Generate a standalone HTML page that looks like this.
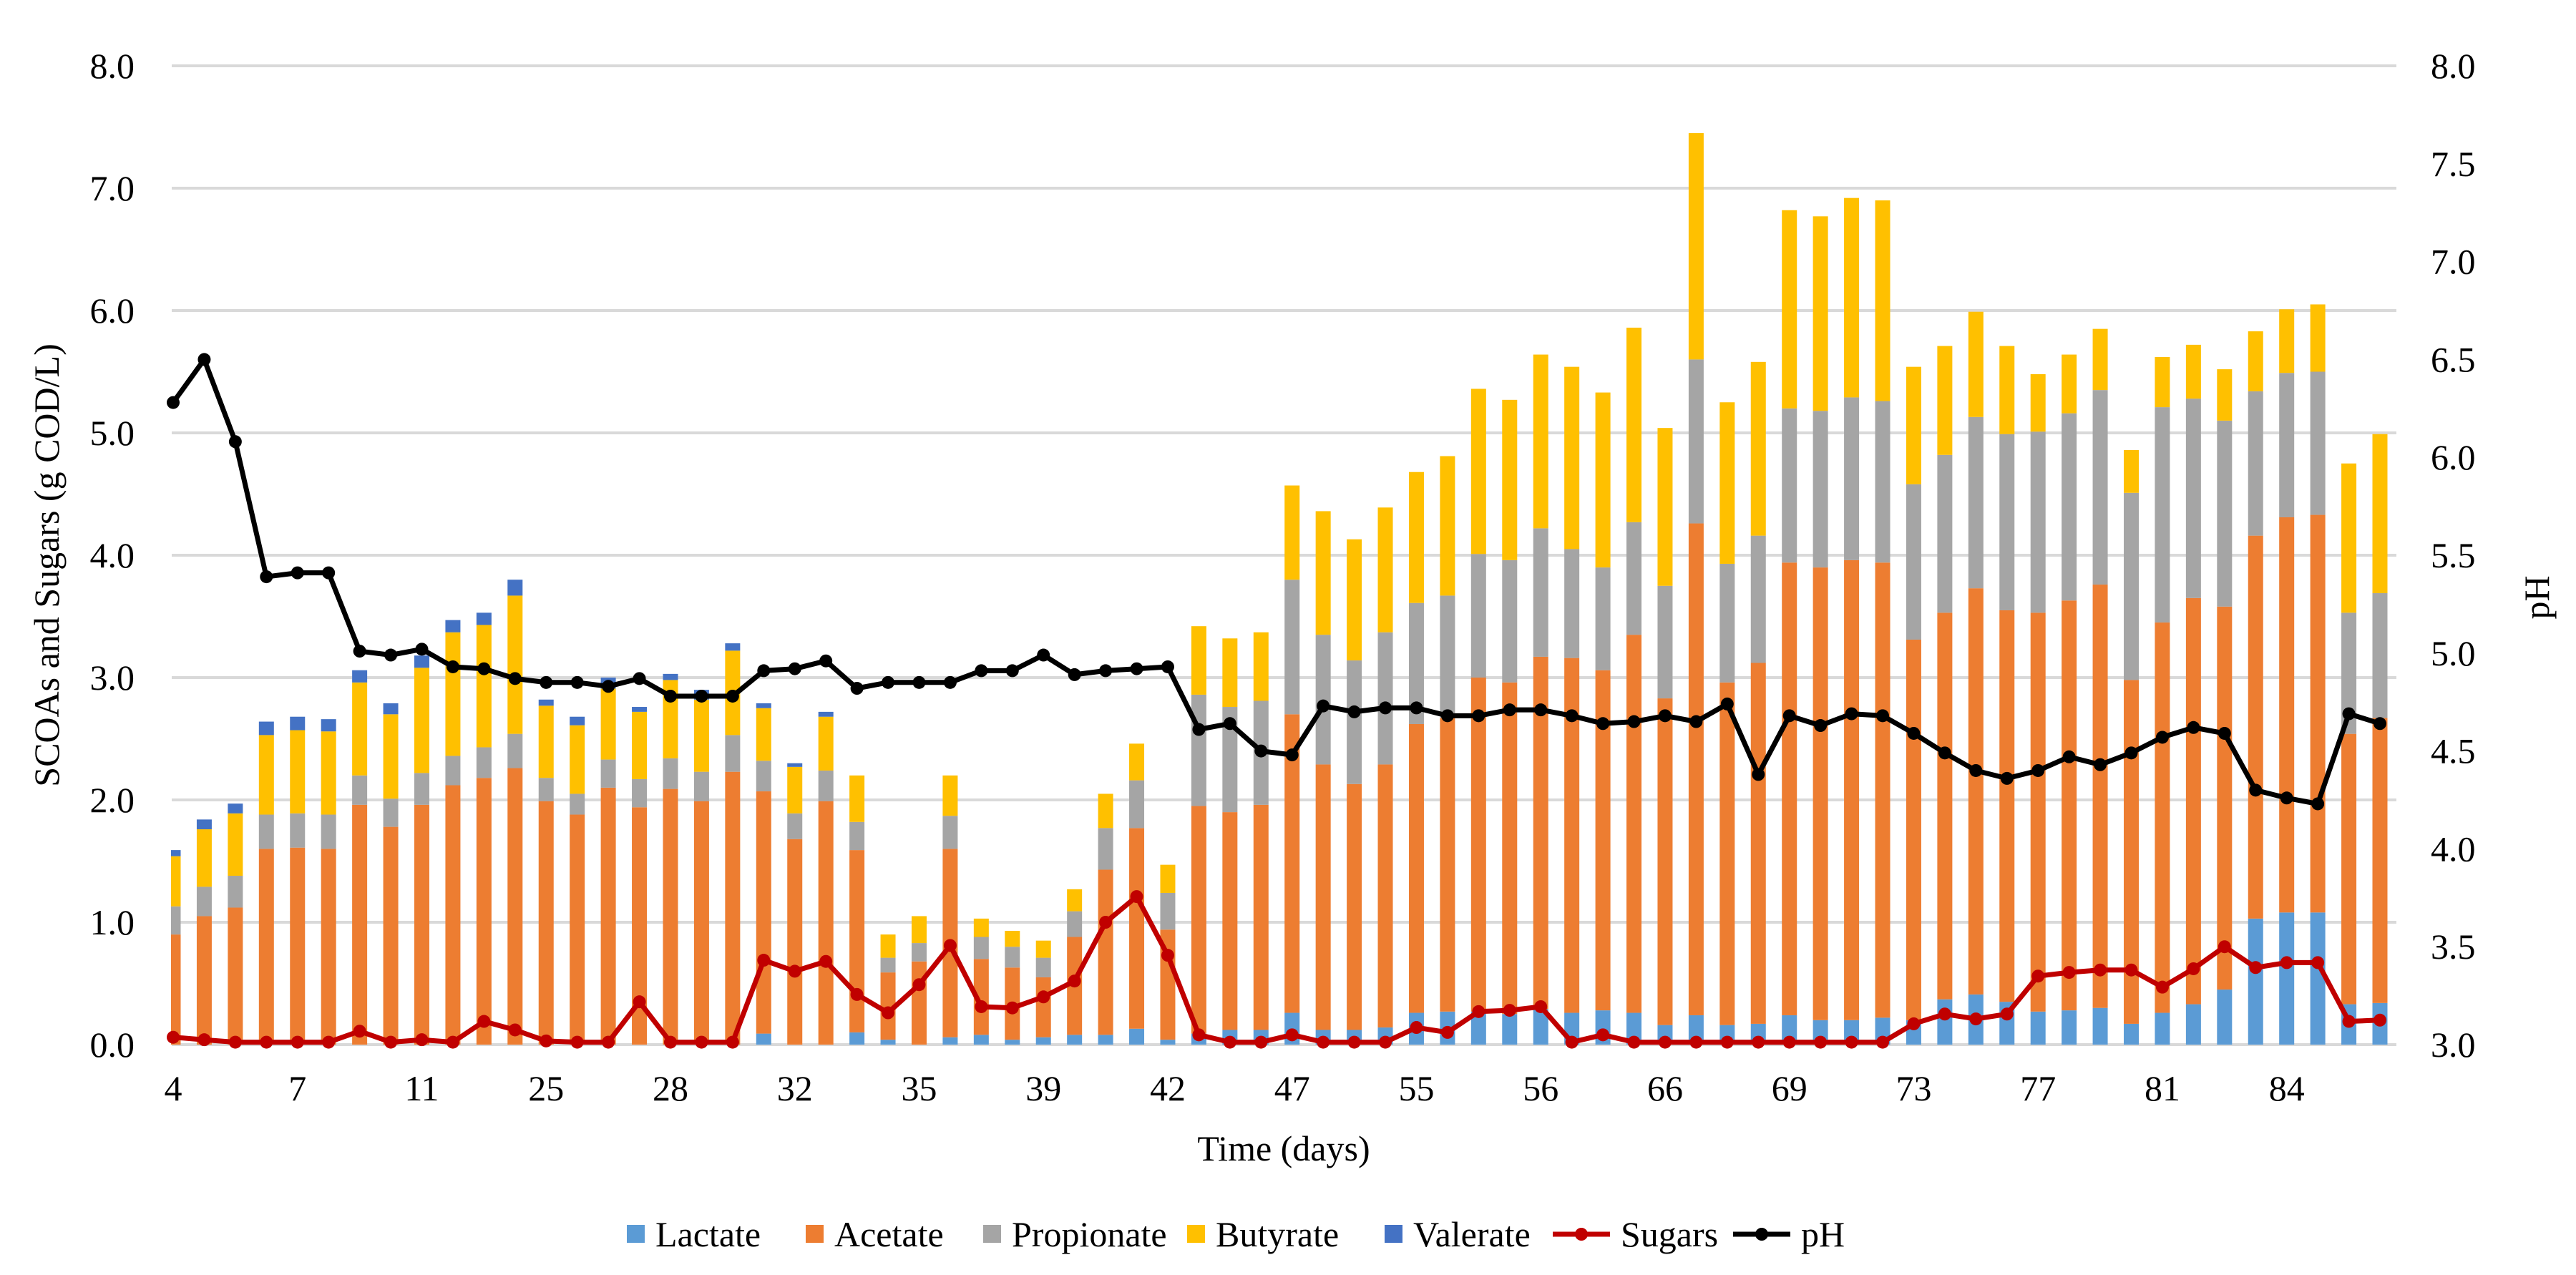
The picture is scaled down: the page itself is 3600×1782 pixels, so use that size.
<!DOCTYPE html>
<html>
<head>
<meta charset="utf-8">
<style>
html,body{margin:0;padding:0;background:#fff;}
svg{display:block;}
text{font-family:"Liberation Serif",serif;fill:#000;}
</style>
</head>
<body>
<svg id="chart" xmlns="http://www.w3.org/2000/svg" width="3600" height="1782" viewBox="0 0 3600 1782">
  <defs>
    <clipPath id="plotclip"><rect x="239" y="0" width="3120" height="1470"/></clipPath>
  </defs>
  <rect x="0" y="0" width="3600" height="1782" fill="#fff"/>
  <g id="grid"></g>
  <g id="bars" clip-path="url(#plotclip)"></g>
  <g id="lines"></g>
  <g id="axes"></g>
  <text x="0" y="0" font-size="50" text-anchor="middle" transform="translate(82,790) rotate(-90)">SCOAs and Sugars (g COD/L)</text>
  <text x="0" y="0" font-size="50" text-anchor="middle" transform="translate(3562,835) rotate(-90)">pH</text>
  <text x="1794" y="1622" font-size="50" text-anchor="middle">Time (days)</text>
  <g id="legend"></g>
</svg>
<script>
const tickLabels = ["4","7","11","25","28","32","35","39","42","47","55","56","66","69","73","77","81","84"];
const lactate = [0,0,0,0,0,0,0,0,0,0,0,0,0,0,0,0,0,0,0,.09,0,0,.10,.04,0,.06,.08,.04,.06,.08,.08,.13,.04,.09,.12,.12,.26,.12,.12,.14,.26,.27,.27,.25,.29,.26,.28,.26,.16,.24,.16,.17,.24,.20,.20,.22,.20,.37,.41,.35,.27,.28,.30,.17,.26,.33,.45,1.03,1.08,1.08,.33,.34];
const acetate = [.90,1.05,1.12,1.60,1.61,1.60,1.96,1.78,1.96,2.12,2.18,2.26,1.99,1.88,2.10,1.94,2.09,1.99,2.23,1.98,1.68,1.99,1.49,.55,.68,1.54,.62,.59,.49,.80,1.35,1.64,.90,1.86,1.78,1.84,2.44,2.17,2.01,2.15,2.36,2.40,2.73,2.71,2.88,2.90,2.78,3.09,2.67,4.02,2.80,2.95,3.70,3.70,3.76,3.72,3.11,3.16,3.32,3.20,3.26,3.35,3.46,2.81,3.19,3.32,3.13,3.13,3.23,3.25,2.21,2.33];
const propionate = [.23,.24,.26,.28,.28,.28,.24,.23,.26,.24,.25,.28,.19,.17,.23,.23,.25,.24,.30,.25,.21,.25,.23,.12,.15,.27,.18,.17,.16,.21,.34,.39,.30,.91,.86,.85,1.10,1.06,1.01,1.08,.99,1.00,1.01,1.00,1.05,.89,.84,.92,.92,1.34,.97,1.04,1.26,1.28,1.33,1.32,1.27,1.29,1.40,1.44,1.48,1.53,1.59,1.53,1.76,1.63,1.52,1.18,1.18,1.17,.99,1.02];
const butyrate = [.41,.47,.51,.65,.68,.68,.76,.69,.86,1.01,1.00,1.13,.59,.56,.58,.55,.64,.59,.69,.43,.38,.44,.38,.19,.22,.33,.15,.13,.14,.18,.28,.30,.23,.56,.56,.56,.77,1.01,.99,1.02,1.07,1.14,1.35,1.31,1.42,1.49,1.43,1.59,1.29,1.85,1.32,1.42,1.62,1.59,1.63,1.64,.96,.89,.86,.72,.47,.48,.50,.35,.41,.44,.42,.49,.52,.55,1.22,1.30];
const valerate = [.05,.08,.08,.11,.11,.10,.10,.09,.10,.10,.10,.13,.05,.07,.09,.04,.05,.08,.06,.04,.03,.04,0,0,0,0,0,0,0,0,0,0,0,0,0,0,0,0,0,0,0,0,0,0,0,0,0,0,0,0,0,0,0,0,0,0,0,0,0,0,0,0,0,0,0,0,0,0,0,0,0,0];
const sugars = [.06,.04,.02,.02,.02,.02,.11,.02,.04,.02,.19,.12,.03,.02,.02,.35,.02,.02,.02,.69,.60,.68,.41,.26,.49,.81,.31,.30,.39,.52,1.0,1.21,.73,.08,.02,.02,.08,.02,.02,.02,.14,.10,.27,.28,.31,.02,.08,.02,.02,.02,.02,.02,.02,.02,.02,.02,.17,.25,.21,.25,.56,.59,.61,.61,.47,.62,.80,.63,.67,.67,.19,.20];
const ph = [6.28,6.5,6.08,5.39,5.41,5.41,5.01,4.99,5.02,4.93,4.92,4.87,4.85,4.85,4.83,4.87,4.78,4.78,4.78,4.91,4.92,4.96,4.82,4.85,4.85,4.85,4.91,4.91,4.99,4.89,4.91,4.92,4.93,4.61,4.64,4.50,4.48,4.73,4.70,4.72,4.72,4.68,4.68,4.71,4.71,4.68,4.64,4.65,4.68,4.65,4.74,4.38,4.68,4.63,4.69,4.68,4.59,4.49,4.40,4.36,4.40,4.47,4.43,4.49,4.57,4.62,4.59,4.30,4.26,4.23,4.69,4.64];
const leftTicks = ["0.0","1.0","2.0","3.0","4.0","5.0","6.0","7.0","8.0"];
const rightTicks = ["3.0","3.5","4.0","4.5","5.0","5.5","6.0","6.5","7.0","7.5","8.0"];

const NS = "http://www.w3.org/2000/svg";
const PL = 240, PR = 3349, Y0 = 1460, YT = 92;
const N = lactate.length;
const X0 = 242, X1 = 3326;
const step = (X1 - X0) / (N - 1);
const xc = i => X0 + step * i;
const yL = v => Y0 - (v / 8) * (Y0 - YT);
const yR = v => Y0 - ((v - 3) / 5) * (Y0 - YT);
function mk(tag, attrs, parent) {
  const e = document.createElementNS(NS, tag);
  for (const k in attrs) e.setAttribute(k, attrs[k]);
  parent.appendChild(e);
  return e;
}
const grid = document.getElementById('grid');
const axes = document.getElementById('axes');
leftTicks.forEach((t, k) => {
  const y = yL(k);
  const g = mk('line', {x1: PL, x2: PR, y1: y, y2: y, stroke: '#d9d9d9', 'stroke-width': 4}, grid);
  
  
  const tx = mk('text', {x: 188, y: y + 17, 'font-size': 50, 'text-anchor': 'end'}, axes);
  tx.textContent = t;
  
  
});
rightTicks.forEach((t, k) => {
  const y = yR(parseFloat(t));
  const tx = mk('text', {x: 3397, y: y + 17, 'font-size': 50, 'text-anchor': 'start'}, axes);
  tx.textContent = t;
  
  
});
tickLabels.forEach((t, k) => {
  const tx = mk('text', {x: xc(k * 4), y: 1538, 'font-size': 50, 'text-anchor': 'middle'}, axes);
  tx.textContent = t;
  
  
});

const series = [
  {name: 'lactate', data: lactate, color: '#5b9bd5'},
  {name: 'acetate', data: acetate, color: '#ed7d31'},
  {name: 'propionate', data: propionate, color: '#a5a5a5'},
  {name: 'butyrate', data: butyrate, color: '#ffc000'},
  {name: 'valerate', data: valerate, color: '#4472c4'}
];
const bars = document.getElementById('bars');
const BW = 21;
for (let i = 0; i < N; i++) {
  let cum = 0;
  series.forEach(s => {
    const v = s.data[i];
    if (v > 0) {
      const yTop = yL(cum + v), yBot = yL(cum);
      const r = mk('rect', {x: xc(i) - BW / 2, y: yTop, width: BW, height: yBot - yTop, fill: s.color}, bars);
      
      
    }
    cum += v;
  });
}

const lines = document.getElementById('lines');
function drawLine(data, yf, color, name) {
  const pts = data.map((v, i) => xc(i).toFixed(1) + ',' + yf(v).toFixed(1)).join(' ');
  const pl = mk('polyline', {points: pts, fill: 'none', stroke: color, 'stroke-width': 7, 'stroke-linejoin': 'round'}, lines);
  
  
  data.forEach((v, i) => {
    const c = mk('circle', {cx: xc(i), cy: yf(v), r: 9, fill: color}, lines);
    
    
  });
}
drawLine(ph, yR, '#000000', 'ph');
drawLine(sugars, yL, '#c00000', 'sugars');

const legend = document.getElementById('legend');
const LY = 1725;
const legItems = [
  {label: 'Lactate', color: '#5b9bd5', x: 876, type: 'sq'},
  {label: 'Acetate', color: '#ed7d31', x: 1126, type: 'sq'},
  {label: 'Propionate', color: '#a5a5a5', x: 1374, type: 'sq'},
  {label: 'Butyrate', color: '#ffc000', x: 1659, type: 'sq'},
  {label: 'Valerate', color: '#4472c4', x: 1935, type: 'sq'},
  {label: 'Sugars', color: '#c00000', x: 2170, type: 'ln'},
  {label: 'pH', color: '#000000', x: 2422, type: 'ln'}
];
legItems.forEach(it => {
  const g = mk('g', {}, legend);
  
  
  let tx0;
  if (it.type === 'sq') {
    mk('rect', {x: it.x, y: LY - 13, width: 25, height: 25, fill: it.color}, g);
    tx0 = it.x + 40;
  } else {
    mk('line', {x1: it.x, x2: it.x + 80, y1: LY, y2: LY, stroke: it.color, 'stroke-width': 7}, g);
    mk('circle', {cx: it.x + 40, cy: LY, r: 9, fill: it.color}, g);
    tx0 = it.x + 95;
  }
  const t = mk('text', {x: tx0, y: LY + 17, 'font-size': 50}, g);
  t.textContent = it.label;
});
</script>
</body>
</html>
